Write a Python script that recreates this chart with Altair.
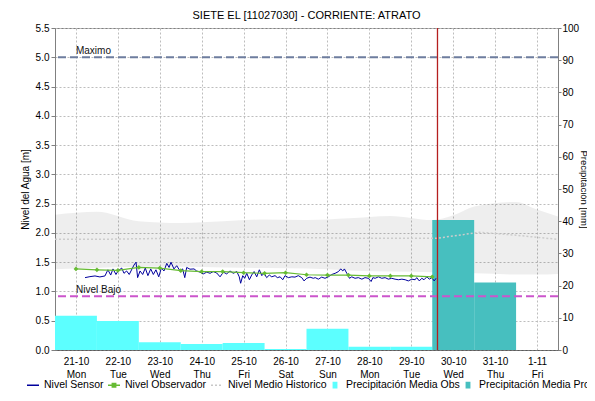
import altair as alt
import pandas as pd

TITLE = "SIETE EL [11027030] - CORRIENTE: ATRATO"
BASE = pd.Timestamp("2024-10-21T00:00:00Z")
FONT = "Liberation Sans"

# ---- data (hours are offsets from 21-10 00:00) ----
tick_days = list(range(12))  # 21-10 ... 1-11

obs_days = [0, 1, 2, 3, 4, 5, 6, 7, 8]
obs_mm = [10.6, 9.0, 2.4, 1.9, 2.2, 0.3, 6.6, 1.0, 1.0]
pro_days = [9, 10]
pro_mm = [40.4, 21.0]

band_hours = [-12, 12, 36, 60, 84, 108, 132, 156, 180, 204, 216, 228, 252, 264, 276]
band_hi = [2.31, 2.36, 2.20, 2.17, 2.20, 2.23, 2.22, 2.25, 2.29, 2.22, 2.30, 2.45, 2.53, 2.40, 2.28]
band_lo = [1.38, 1.40, 1.42, 1.42, 1.41, 1.40, 1.39, 1.36, 1.34, 1.33, 1.32, 1.31, 1.29, 1.29, 1.30]

hist_hours = [-12, 12, 36, 60, 84, 108, 132, 156, 180, 207, 231, 240, 252, 276]
hist_level = [1.89, 1.89, 1.90, 1.91, 1.92, 1.93, 1.92, 1.91, 1.91, 1.91, 2.01, 1.99, 1.96, 1.89]

obsv_hours = [0, 12, 24, 36, 48, 60, 72, 84, 96, 108, 120, 132, 144, 156, 168, 180, 192, 204]
obsv_level = [1.385, 1.37, 1.36, 1.41, 1.40, 1.355, 1.34, 1.34, 1.32, 1.31, 1.32, 1.285,
              1.28, 1.28, 1.265, 1.265, 1.265, 1.25]

sensor_hours = [5.2, 8.0, 10.9, 13.7, 16.6, 18.3, 19.9, 21.2, 22.9, 24.1, 26.2, 27.5, 29.0, 30.5,
                32.1, 33.2, 34.4, 35.3, 36.7, 38.2, 39.7, 41.2, 42.8, 44.3, 45.8, 47.4, 48.9,
                50.4, 52.0, 53.3, 54.4, 56.1, 57.7, 59.6, 61.1, 62.3, 63.4, 65.3, 67.6, 69.1,
                71.0, 72.9, 74.9, 76.8, 78.6, 80.6, 82.5, 84.4, 86.3, 88.2, 90.1, 92.1, 93.5,
                94.3, 95.5, 96.6, 97.8, 99.3, 100.6, 102.0, 103.5, 105.0, 106.4, 107.7, 109.2,
                110.7, 112.1, 114.0, 115.3, 116.9, 118.4, 119.7, 121.6, 123.6, 125.4, 127.3,
                129.3, 130.6, 132.1, 134.0, 135.9, 137.0, 138.8, 140.7, 142.6, 144.5, 146.5,
                148.4, 150.3, 151.6, 152.8, 153.7, 155.1, 156.6, 157.9, 159.8, 161.7, 163.7,
                165.5, 167.4, 169.0, 170.0, 171.3, 173.2, 175.1, 177.0, 178.9, 180.8, 182.7,
                184.6, 186.6, 188.5, 190.3, 192.3, 194.2, 195.1, 196.6, 198.0, 199.3, 200.9,
                202.3, 203.7, 205.1, 206.2]
sensor_level = [1.236, 1.253, 1.265, 1.248, 1.265, 1.37, 1.28, 1.385, 1.29, 1.35, 1.40, 1.31,
                1.35, 1.29, 1.385, 1.45, 1.50, 1.236, 1.35, 1.29, 1.40, 1.27, 1.385, 1.29, 1.37,
                1.25, 1.40, 1.35, 1.48, 1.41, 1.50, 1.385, 1.44, 1.35, 1.385, 1.236, 1.41, 1.38,
                1.385, 1.35, 1.33, 1.30, 1.33, 1.31, 1.34, 1.315, 1.25, 1.33, 1.30, 1.35, 1.31,
                1.34, 1.25, 1.14, 1.27, 1.225, 1.31, 1.20, 1.28, 1.34, 1.25, 1.37, 1.27, 1.31,
                1.236, 1.28, 1.25, 1.27, 1.236, 1.25, 1.20, 1.27, 1.236, 1.25, 1.245, 1.27,
                1.236, 1.18, 1.225, 1.245, 1.225, 1.236, 1.21, 1.245, 1.225, 1.25, 1.29, 1.31,
                1.34, 1.385, 1.35, 1.385, 1.31, 1.225, 1.25, 1.225, 1.236, 1.21, 1.236, 1.225,
                1.17, 1.236, 1.225, 1.25, 1.225, 1.236, 1.21, 1.225, 1.21, 1.20, 1.21, 1.20,
                1.18, 1.21, 1.20, 1.236, 1.18, 1.225, 1.20, 1.25, 1.21, 1.236, 1.18, 1.225]

now_hour = 207
ref_names = ["Maximo", "Nivel Bajo"]
ref_levels = [5.0, 0.92]
ref_colors = ["#6E7D9E", "#CC55CC"]

series = ["Nivel Sensor", "Nivel Observador", "Nivel Medio Historico",
          "Precipitación Media Obs", "Precipitación Media Pro"]
series_colors = ["#00009C", "#66BB33", "#C8C8C8", "#5CFFFF", "#47BFBF"]
# legend glyphs: line, line with marker, dotted line, small box, small box
series_glyphs = ["M-1,0H1", "M-1,0H1M-0.28,-0.28H0.28V0.28H-0.28Z", "M-1,0H1",
                 "M-0.28,-0.45H0.28V0.45H-0.28Z", "M-0.28,-0.45H0.28V0.45H-0.28Z"]
series_dash = [[1, 0], [1, 0], [2, 2], [1, 0], [1, 0]]


def iso(h):
    return (BASE + pd.Timedelta(hours=float(h))).strftime("%Y-%m-%dT%H:%M:%SZ")


def ms(h):
    return int((BASE + pd.Timedelta(hours=float(h))).timestamp() * 1000)


# ---- tables ----
band_df = pd.DataFrame({"t": [iso(h) for h in band_hours], "hi": band_hi, "lo": band_lo})
hist_df = pd.DataFrame({"t": [iso(h) for h in hist_hours], "v": hist_level})
obsv_df = pd.DataFrame({"t": [iso(h) for h in obsv_hours], "v": obsv_level})
sensor_df = pd.DataFrame({"t": [iso(h) for h in sensor_hours], "v": sensor_level})
obs_df = pd.DataFrame({"t0": [iso(d * 24 - 12) for d in obs_days],
                       "t1": [iso(d * 24 + 12) for d in obs_days], "v": obs_mm})
pro_df = pd.DataFrame({"t0": [iso(d * 24 - 12) for d in pro_days],
                       "t1": [iso(d * 24 + 12) for d in pro_days], "v": pro_mm})
ref_df = pd.DataFrame({"name": ref_names, "v": ref_levels, "t": [iso(0), iso(0)],
                       "c": ref_colors})
now_df = pd.DataFrame({"t": [iso(now_hour)]})

x_dom = [ms(-12), ms(276)]
x_ticks = [ms(d * 24) for d in tick_days]
xscale = alt.Scale(type="utc", domain=x_dom)

x_axis = alt.Axis(
    values=x_ticks, title=None, grid=True, gridColor="#BDBDBD", gridDash=[2, 2],
    ticks=False, labelPadding=6, labelFontSize=10, labelLineHeight=13.5,
    labelExpr="[utcFormat(datum.value, '%-d-%m'), utcFormat(datum.value, '%a')]",
    domainColor="#333333", domainDash=[1, 1], labelColor="#000000",
)

yL_scale = alt.Scale(domain=[0, 5.5], nice=False, zero=True)
yL_axis = alt.Axis(
    values=[i * 0.5 for i in range(12)], format=".1f", title="Nivel del Agua [m]",
    grid=True, gridColor="#BDBDBD", gridDash=[2, 2], tickSize=4, tickColor="#808080",
    domainColor="#808080", labelFontSize=10, titleFontSize=10, titleFontWeight="normal",
    titlePadding=5, labelPadding=2, orient="left", labelColor="#000000",
)
yR_axis = alt.Axis(
    values=list(range(0, 101, 10)), title="Precipitación [mm]", grid=False, tickSize=3,
    tickColor="#808080", domainColor="#808080", labelFontSize=10, titleFontSize=9.5,
    titleFontWeight="normal", titlePadding=0, labelPadding=1, orient="right",
    labelColor="#000000",
)


def yC(field):
    return alt.Y(field, type="quantitative", scale=yL_scale, axis=None)


# ---- group A: band (left axis) ----
band = alt.Chart(band_df).mark_area(color="black", opacity=0.066, interpolate="monotone").encode(
    x=alt.X("t:T", scale=xscale, axis=x_axis),
    y=alt.Y("lo:Q", scale=yL_scale, axis=yL_axis),
    y2="hi:Q",
)

# ---- group B: precipitation bars (right axis) ----
yR_scale = alt.Scale(domain=[0, 100], nice=False)
bars_obs = alt.Chart(obs_df).mark_bar(color="#5CFFFF").encode(
    x=alt.X("t0:T", scale=xscale), x2="t1:T",
    y=alt.Y("v:Q", scale=yR_scale, axis=yR_axis), y2=alt.datum(0),
)
bars_pro = alt.Chart(pro_df).mark_bar(color="#47BFBF").encode(
    x=alt.X("t0:T", scale=xscale), x2="t1:T",
    y=alt.Y("v:Q", scale=yR_scale, axis=yR_axis), y2=alt.datum(0),
)
groupB = alt.layer(bars_obs, bars_pro)

# ---- group C: lines (left scale, no axis) ----
hist = alt.Chart(hist_df).mark_line(color="#CCCCCC", strokeDash=[2, 2], strokeWidth=1.5).encode(
    x=alt.X("t:T", scale=xscale), y=yC("v"))
ref_rules = alt.Chart(ref_df).mark_rule(strokeDash=[8, 4], strokeWidth=2).encode(
    y=yC("v"), color=alt.Color("c:N", scale=None))
ref_text = alt.Chart(ref_df).mark_text(align="left", baseline="bottom", dy=-1, fontSize=10,
                                       font=FONT, color="#111111").encode(
    x=alt.X("t:T", scale=xscale), y=yC("v"), text="name:N")
sensor = alt.Chart(sensor_df).mark_line(color="#00009C", strokeWidth=1).encode(
    x=alt.X("t:T", scale=xscale), y=yC("v"))
obsv_line = alt.Chart(obsv_df).mark_line(color="#66BB33", strokeWidth=1.2).encode(
    x=alt.X("t:T", scale=xscale), y=yC("v"))
obsv_pts = alt.Chart(obsv_df).mark_point(color="#66BB33", filled=True, shape="diamond",
                                         size=22, opacity=1).encode(
    x=alt.X("t:T", scale=xscale), y=yC("v"))
now_rule = alt.Chart(now_df).mark_rule(color="#B51F1F", strokeWidth=1.3).encode(
    x=alt.X("t:T", scale=xscale))

leg = alt.Legend(title=None, orient="none", legendX=-29, legendY=350, direction="horizontal",
                 labelFontSize=10.5, labelFont=FONT, labelOffset=4, columnPadding=1,
                 symbolSize=144, symbolStrokeWidth=1.5, labelColor="#000000")
legend_layer = alt.Chart(pd.DataFrame({"serie": series})).transform_filter("false").mark_point(
    filled=True, opacity=1).encode(
    shape=alt.Shape("serie:N", scale=alt.Scale(domain=series, range=series_glyphs), legend=leg),
    fill=alt.Fill("serie:N", scale=alt.Scale(domain=series, range=series_colors), legend=leg),
    stroke=alt.Stroke("serie:N", scale=alt.Scale(domain=series, range=series_colors), legend=leg),
    strokeDash=alt.StrokeDash("serie:N", scale=alt.Scale(domain=series, range=series_dash),
                              legend=leg),
)

groupC = alt.layer(hist, ref_rules, ref_text, sensor, obsv_line, obsv_pts, now_rule, legend_layer)

chart = alt.layer(band, groupB, groupC).resolve_scale(y="independent").properties(
    width=503, height=322,
    title=alt.TitleParams(TITLE, fontSize=11, fontWeight="normal", font=FONT, anchor="middle",
                          offset=2, color="#000000"),
    autosize=alt.AutoSizeParams(type="none"),
    padding={"left": 47, "top": 20, "right": 29, "bottom": 43},
).configure(font=FONT).configure_view(stroke="#808080", strokeWidth=1).configure_axis(
    labelFont=FONT, titleFont=FONT)

chart.save("out.html", embed_options={"renderer": "svg", "actions": False})
